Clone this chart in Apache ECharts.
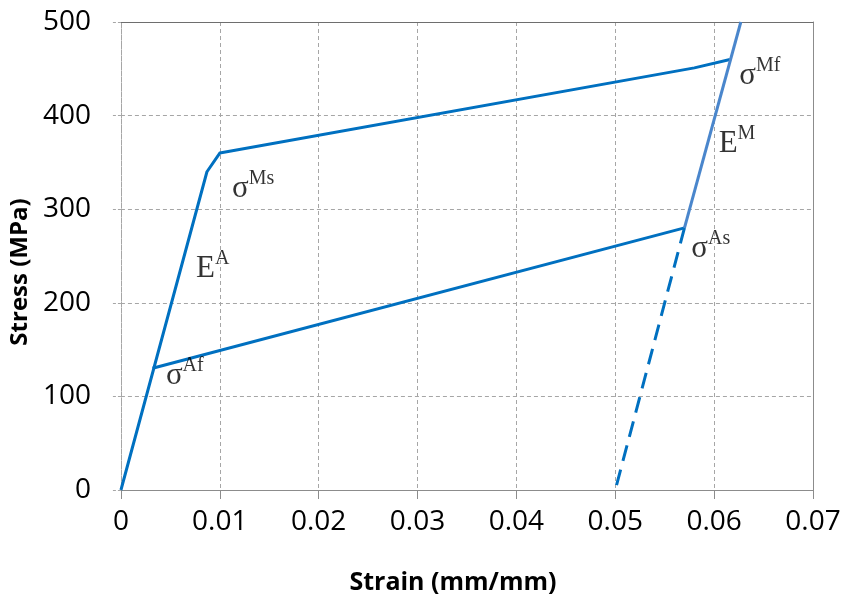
<!DOCTYPE html>
<html>
<head>
<meta charset="utf-8">
<script src="https://cdn.jsdelivr.net/npm/echarts@6/dist/echarts.min.js"></script>
<style>
  html, body { margin: 0; padding: 0; background: #fff; }
  #chart { width: 846px; height: 600px; }
</style>
</head>
<body>
<div id="chart"></div>
<script>
// Superelastic stress–strain loop (strain in mm/mm, stress in MPa)
const xTicks = { min: 0, max: 0.07, step: 0.01 };
const yTicks = { min: 0, max: 500, step: 100 };

// Loading: austenite elastic, transformation plateau up to martensite finish
const loadStrain = [0, 0.0087, 0.0100, 0.0580, 0.0616];
const loadStress = [0, 340, 360, 451, 460];

// Martensite elastic branch
const martStrain = [0.0570, 0.0627];
const martStress = [280, 500];

// Unloading: reverse transformation from As down to Af
const unloadStrain = [0.0570, 0.0032];
const unloadStress = [280, 130];

// Elastic unloading of martensite to residual strain (dashed)
const residStrain = [0.0570, 0.0500];
const residStress = [280, 0];

// Annotations: base symbol, superscript, anchor strain and stress
const noteBase = ['σ', 'E', 'σ', 'σ', 'E', 'σ'];
const noteSup = ['Ms', 'A', 'Af', 'Mf', 'M', 'As'];
const noteStrain = [0.01124, 0.00759, 0.00455, 0.06255, 0.06046, 0.05769];
const noteStress = [322.4, 237.0, 122.9, 443.4, 370.5, 258.3];

const pairs = (xs, ys) => xs.map((x, i) => [x, ys[i]]);

const mainBlue = '#0070C0';
const lightBlue = '#4A86CC';
const axisFont = 'Open Sans';
const noteFont = 'Liberation Serif';

const chart = echarts.init(document.getElementById('chart'), null, { renderer: 'canvas' });

const lineSeries = (data, color, dashed) => ({
  type: 'line',
  data: data,
  showSymbol: false,
  symbol: 'none',
  silent: true,
  lineStyle: { color: color, width: 3, type: dashed ? [16, 9] : 'solid', cap: 'butt', join: 'round' },
  z: 3
});

chart.setOption({
  animation: false,
  backgroundColor: '#fff',
  grid: { left: 120, right: 33, top: 22, bottom: 110, containLabel: false },
  xAxis: [{
    type: 'value',
    min: xTicks.min, max: xTicks.max, interval: xTicks.step,
    axisLine: { show: true, onZero: false, lineStyle: { color: '#8c8c8c', width: 1 } },
    axisTick: { show: true, inside: false, length: 9, lineStyle: { color: '#8c8c8c' } },
    splitLine: { show: true, lineStyle: { color: '#a6a6a6', type: [4, 3], width: 1 } },
    axisLabel: { color: '#000', fontFamily: axisFont, fontSize: 28, margin: 18,
      formatter: v => v === 0 ? '0' : v.toFixed(2) },
    name: 'Strain (mm/mm)', nameLocation: 'middle', nameGap: 80,
    nameTextStyle: { color: '#000', fontFamily: axisFont, fontSize: 25, fontWeight: 'bold',
      padding: [0, 28, 0, 0] }
  }, {
    type: 'value', position: 'top',
    min: xTicks.min, max: xTicks.max, interval: xTicks.step,
    axisLine: { show: true, onZero: false, lineStyle: { color: '#6e6e6e', width: 1 } },
    axisTick: { show: false }, axisLabel: { show: false }, splitLine: { show: false }
  }],
  yAxis: [{
    type: 'value',
    min: yTicks.min, max: yTicks.max, interval: yTicks.step,
    axisLine: { show: true, onZero: false, lineStyle: { color: '#a6a6a6', width: 1, type: [2, 1] } },
    axisTick: { show: true, inside: false, length: 10, lineStyle: { color: '#a6a6a6', type: [3, 2] } },
    splitLine: { show: true, lineStyle: { color: '#a6a6a6', type: [4, 3], width: 1 } },
    axisLabel: { color: '#000', fontFamily: axisFont, fontSize: 28, margin: 30 },
    name: 'Stress (MPa)', nameLocation: 'middle', nameGap: 86, nameRotate: 90,
    nameTextStyle: { color: '#000', fontFamily: axisFont, fontSize: 24, fontWeight: 'bold',
      padding: [0, 32, 0, 0] }
  }, {
    type: 'value', position: 'right',
    min: yTicks.min, max: yTicks.max, interval: yTicks.step,
    axisLine: { show: true, onZero: false, lineStyle: { color: '#8c8c8c', width: 1 } },
    axisTick: { show: false }, axisLabel: { show: false }, splitLine: { show: false }
  }],
  series: [
    lineSeries(pairs(unloadStrain, unloadStress), mainBlue, false),
    lineSeries(pairs(residStrain, residStress), mainBlue, true),
    lineSeries(pairs(loadStrain, loadStress), mainBlue, false),
    lineSeries(pairs(martStrain, martStress), lightBlue, false),
    {
      type: 'scatter',
      silent: true,
      symbolSize: 0,
      data: noteStrain.map((x, i) => [x, noteStress[i], i]),
      label: {
        show: true,
        position: 'right',
        distance: 0,
        offset: [0, -4],
        formatter: p => '{b|' + noteBase[p.data[2]] + '}{s|' + noteSup[p.data[2]] + '}',
        rich: {
          b: { fontFamily: noteFont, fontSize: 31, lineHeight: 40, color: '#000', verticalAlign: 'bottom' },
          s: { fontFamily: noteFont, fontSize: 20, lineHeight: 20, color: '#000', verticalAlign: 'bottom',
            padding: [0, 0, 15, 0] }
        }
      },
      z: 5
    }
  ]
});
</script>
</body>
</html>
